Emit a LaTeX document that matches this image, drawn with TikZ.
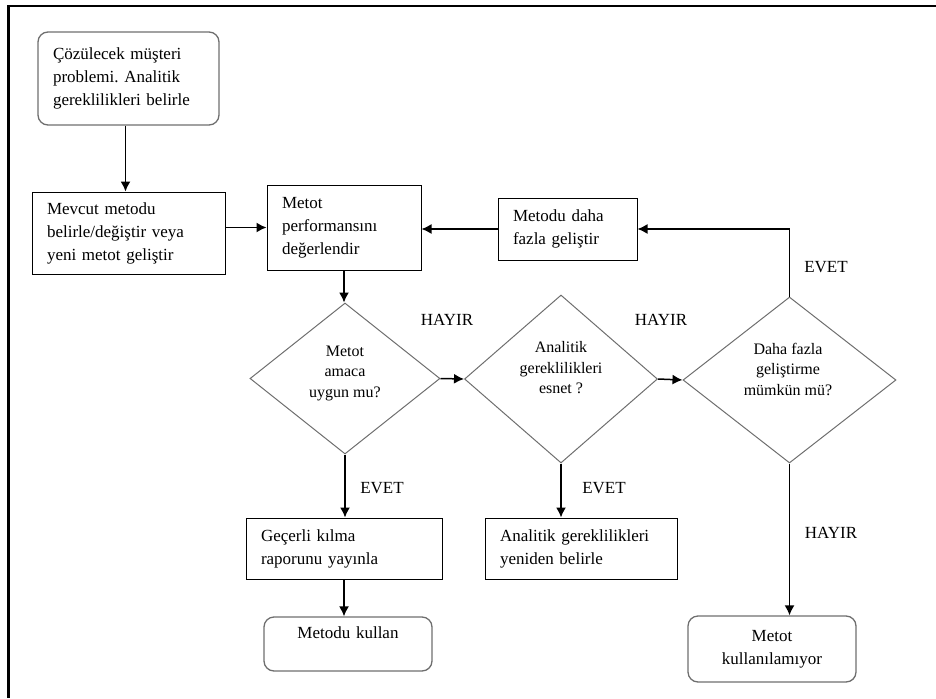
\documentclass[tikz,border=0pt]{standalone}
\usepackage{fontspec}
\setmainfont{Liberation Serif}
\newfontfamily\tnr{Liberation Serif}
\usetikzlibrary{shapes.geometric,arrows.meta,calc}
\definecolor{shapegray}{HTML}{6E6E6E}
\frenchspacing
\tikzset{
  boxtext/.style={font=\tnr\fontsize{17}{23}\selectfont},
  rectbox/.style={draw=black, line width=1pt, rectangle, inner xsep=15pt, inner ysep=0pt, align=left, boxtext},
  roundbox/.style={draw=shapegray, line width=1.3pt, rectangle, rounded corners=10pt, inner xsep=15pt, inner ysep=0pt, boxtext},
  decision/.style={draw=shapegray, line width=1pt, diamond, aspect=1.26, inner sep=0pt},
  dtext/.style={font=\tnr\fontsize{16}{20.5}\selectfont, align=center, inner sep=0pt},
  lbl/.style={font=\tnr\fontsize{17}{20}\selectfont, inner sep=0pt},
  arr/.style={line width=1.5pt, -{Latex[length=10pt,width=10pt]}}
}
\begin{document}
\begin{tikzpicture}[x=1pt,y=-1pt]
\useasboundingbox (0,0) rectangle (936,698);
% frame (top and left only)
\coordinate (ftl) at (8.5,6);
\coordinate (ftr) at (936,6);
\coordinate (fbl) at (8.5,698);
\draw[line width=2.2pt] (ftr) -- (ftl) -- (fbl);

% boxes
\node[roundbox, minimum width=181pt, minimum height=93pt, text width=151pt, align=left] (top) at (128.5,78.5)
  {Çözülecek müşteri\\problemi. Analitik\\gereklilikleri belirle};
\node[rectbox, minimum width=193pt, minimum height=82pt, text width=163pt] (mevcut) at (128.5,233)
  {Mevcut metodu\\belirle/değiştir veya\\yeni metot geliştir};
\node[rectbox, minimum width=154pt, minimum height=85pt, text width=124pt] (perf) at (344,227.5)
  {Metot\\performansını\\değerlendir};
\node[rectbox, minimum width=139pt, minimum height=62pt, text width=109pt] (more) at (567.5,229)
  {Metodu daha\\fazla geliştir};
\node[rectbox, minimum width=196pt, minimum height=61pt, text width=166pt] (gecerli) at (344,548.5)
  {Geçerli kılma\\raporunu yayınla};
\node[rectbox, minimum width=190pt, minimum height=61pt, text width=162pt] (analitik) at (581,548.5)
  {Analitik gereklilikleri\\yeniden belirle};
\node[roundbox, minimum width=168pt, minimum height=54pt, text width=138pt, align=center] (kullan) at (348,644)
  {Metodu kullan\\\mbox{}};
\node[roundbox, minimum width=168pt, minimum height=66pt, text width=138pt, align=center] (kn) at (772,649)
  {Metot\\kullanılamıyor};

% decisions
\node[decision, minimum width=190pt, minimum height=151pt] (d1) at (345,378.5) {};
\node[decision, minimum width=193pt, minimum height=168pt] (d2) at (561,379) {};
\node[decision, minimum width=213pt, minimum height=166pt] (d3) at (789.5,380) {};
\node[dtext] (d1t) at (345,373) {Metot\\amaca\\uygun mu?};
\node[dtext] (d2t) at (561,368) {Analitik\\gereklilikleri\\esnet ?};
\node[dtext] (d3t) at (788,369) {Daha fazla\\geliştirme\\mümkün mü?};

% labels
\node[lbl] (h1) at (447,320) {HAYIR};
\node[lbl] (h2) at (661,320) {HAYIR};
\node[lbl] (e3) at (826,267) {EVET};
\node[lbl] (e1) at (382,488) {EVET};
\node[lbl] (e2) at (604,488) {EVET};
\node[lbl] (h3) at (831,533) {HAYIR};

% connectors
\draw[arr] ([xshift=-3pt]top.south) -- ([xshift=-3pt]mevcut.north);
\draw[arr] (perf.west -| mevcut.east) -- (perf.west);
\draw[arr] (perf.south) -- (perf.south |- d1.north);
\draw[arr] (d1.east) -- (d2.west);
\draw[arr] (d2.east) -- (d3.west);
\draw[arr] (d3.north) |- (more.east);
\draw[arr] (more.west) -- (more.west -| perf.east);
\draw[arr] (d1.south) -- (d1.south |- gecerli.north);
\draw[arr] (gecerli.south) -- (gecerli.south |- kullan.north);
\draw[arr] (d2.south) -- (d2.south |- analitik.north);
\draw[arr] (d3.south) -- (d3.south |- kn.north);
\end{tikzpicture}
\end{document}
